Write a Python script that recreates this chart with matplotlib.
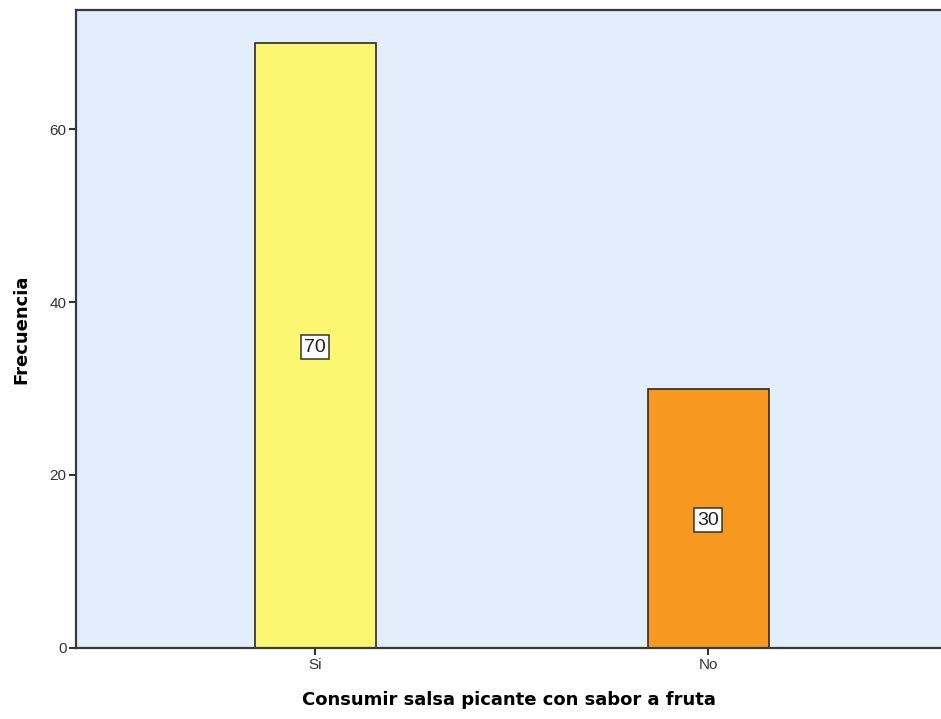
import matplotlib
matplotlib.use("Agg")
import matplotlib.pyplot as plt

CATEGORIES = ["Si", "No"]
COUNTS = [70, 30]
BAR_COLORS = ["#FBF771", "#F7991F"]

plt.rcParams.update({"font.family": "DejaVu Sans"})

fig = plt.figure(figsize=(9.41, 7.19), dpi=100)
ax = fig.add_axes([0.081, 0.099, 0.919, 0.887])
ax.set_facecolor("#E2EEFB")

xs = list(range(len(CATEGORIES)))
bars = ax.bar(xs, COUNTS, width=0.308, color=BAR_COLORS,
              edgecolor="#2b2b2b", linewidth=1.2, zorder=2)
for x, v in zip(xs, COUNTS):
    ax.text(x, v / 2, f"{v}", ha="center", va="center_baseline", fontsize=14,
            color="#222222", family="Liberation Sans",
            bbox=dict(boxstyle="square,pad=0.18", fc="white", ec="#333333", lw=1.1),
            zorder=3)

ax.set_xlim(-0.608, 1.593)
ax.set_ylim(0, 73.8)
ax.set_yticks([0, 20, 40, 60])
ax.set_xticks(xs)
ax.set_xticklabels(CATEGORIES)
ax.tick_params(axis="both", labelsize=11, colors="#333333", length=5, width=1.5,
               pad=2)
for lab in ax.get_xticklabels() + ax.get_yticklabels():
    lab.set_family("Liberation Sans")

for side in ("left", "bottom", "top"):
    ax.spines[side].set_color("#3a3a3a")
    ax.spines[side].set_linewidth(1.6)
ax.spines["right"].set_visible(False)

ax.set_ylabel("Frecuencia", fontsize=13, fontweight="bold", labelpad=14)
ax.set_xlabel("Consumir salsa picante con sabor a fruta", fontsize=13,
              fontweight="bold", labelpad=14)

fig.savefig("out.png", dpi=100)
